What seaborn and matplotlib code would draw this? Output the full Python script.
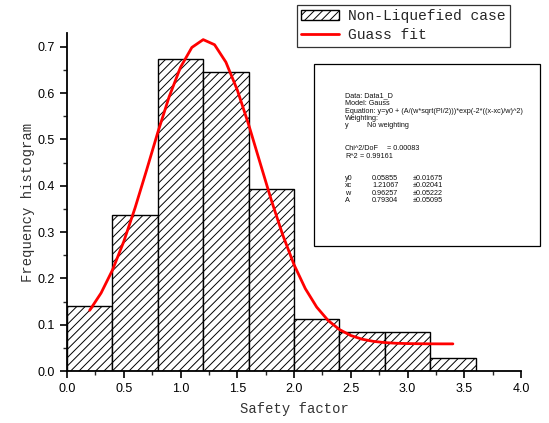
import numpy as np
import matplotlib
matplotlib.use("Agg")
import matplotlib.pyplot as plt
import seaborn as sns
from matplotlib.patches import Patch, Rectangle
from matplotlib.lines import Line2D
from matplotlib.ticker import MultipleLocator

# ---- data ----
bin_edges = [0.0, 0.4, 0.8, 1.2, 1.6, 2.0, 2.4, 2.8, 3.2, 3.6]
bin_centers = [0.2, 0.6, 1.0, 1.4, 1.8, 2.2, 2.6, 3.0, 3.4]
freq = [0.140, 0.337, 0.674, 0.646, 0.393, 0.112, 0.084, 0.084, 0.028]

fit_x = [0.2, 0.3, 0.4, 0.5, 0.6, 0.7, 0.8, 0.9, 1.0, 1.1, 1.2, 1.3, 1.4, 1.5,
         1.6, 1.7, 1.8, 1.9, 2.0, 2.1, 2.2, 2.3, 2.4, 2.5, 2.6, 2.7, 2.8, 2.9,
         3.0, 3.1, 3.2, 3.3, 3.4]
fit_y = [0.1311, 0.1683, 0.2177, 0.2795, 0.3525, 0.4329, 0.5153, 0.5923,
         0.6559, 0.6988, 0.7157, 0.7047, 0.6670, 0.6072, 0.5325, 0.4506,
         0.3692, 0.2943, 0.2298, 0.1778, 0.1380, 0.1093, 0.0896, 0.0767,
         0.0687, 0.0640, 0.0614, 0.0599, 0.0592, 0.0589, 0.0587, 0.0586,
         0.0586]

x_ticks = [0.0, 0.5, 1.0, 1.5, 2.0, 2.5, 3.0, 3.5, 4.0]
y_ticks = [0.0, 0.1, 0.2, 0.3, 0.4, 0.5, 0.6, 0.7]

legend_labels = ["Non-Liquefied case", "Guass fit"]
xlabel = "Safety factor"
ylabel = "Frequency histogram"

box_lines = [
    ("Data: Data1_D", None),
    ("Model: Gauss", None),
    ("Equation: y=y0 + (A/(w*sqrt(PI/2)))*exp(-2*((x-xc)/w)^2)", None),
    ("Weighting:", None),
    ("y", "No weighting"),
]
chi_line = ("Chi^2/DoF", "= 0.00083")
r2_line = ("R^2", "= 0.99161")
params = [("y0", "0.05855", "\u00b10.01675"),
          ("xc", "1.21067", "\u00b10.02041"),
          ("w", "0.96257", "\u00b10.05222"),
          ("A", "0.79304", "\u00b10.05095")]

# ---- plot ----
sns.set_style("white")
plt.rcParams["hatch.linewidth"] = 0.7
mono = ["Liberation Mono", "DejaVu Sans Mono"]
sans = ["Liberation Sans", "DejaVu Sans"]

fig = plt.figure(figsize=(5.49, 4.23), dpi=100)
ax = fig.add_axes([67/549, 52/423, (521-67)/549, (371-33)/423])

sns.histplot(x=bin_centers, weights=freq, bins=bin_edges, ax=ax,
             stat="count", color="white", alpha=1, edgecolor="black",
             linewidth=1.0, hatch="////", zorder=1)
sns.lineplot(x=fit_x, y=fit_y, ax=ax, color="red", linewidth=2.0, zorder=3)

ax.set_xlim(0, 4.0)
ax.set_ylim(0, 0.73)
ax.set_xticks(x_ticks)
ax.set_yticks(y_ticks)
ax.xaxis.set_minor_locator(MultipleLocator(0.25))
ax.yaxis.set_minor_locator(MultipleLocator(0.05))
ax.set_xticklabels([f"{v:.1f}" for v in x_ticks], fontfamily=sans, fontsize=9)
ax.set_yticklabels([f"{v:.1f}" for v in y_ticks], fontfamily=sans, fontsize=9)
ax.tick_params(which="major", direction="out", length=5, width=1.2,
               bottom=True, left=True, colors="black")
ax.tick_params(which="minor", direction="out", length=3, width=1.0,
               bottom=True, left=True)
for s in ["top", "right"]:
    ax.spines[s].set_visible(False)
for s in ["left", "bottom"]:
    ax.spines[s].set_linewidth(1.3)
    ax.spines[s].set_color("black")
ax.set_xlabel(xlabel, fontfamily=mono, fontsize=10, color="#333333", labelpad=5)
ax.set_ylabel(ylabel, fontfamily=mono, fontsize=10, color="#333333", labelpad=2)
ax.grid(False)

handles = [Patch(facecolor="white", edgecolor="black", hatch="////", linewidth=1.0),
           Line2D([0], [0], color="red", linewidth=2.0)]
leg = fig.legend(handles, legend_labels, loc="upper left",
                 bbox_to_anchor=(297/549, 1 - 5/423),
                 prop={"family": mono, "size": 10.5},
                 frameon=True, fancybox=False, borderpad=0.3,
                 handlelength=2.6, handletextpad=0.6, labelspacing=0.35,
                 borderaxespad=0)
leg.get_frame().set_edgecolor("black")
leg.get_frame().set_linewidth(0.9)

# fit-result box
bx0, by0, bx1, by1 = 314/549, 1 - 246/423, 540/549, 1 - 64/423
fig.patches.append(Rectangle((bx0, by0), bx1 - bx0, by1 - by0,
                             transform=fig.transFigure, facecolor="white",
                             edgecolor="black", linewidth=0.9, zorder=5))

def ft(xp, yp, s):
    fig.text(xp/549, 1 - yp/423, s, fontsize=5.2, fontfamily=sans,
             va="center", ha="left", zorder=6, color="#111111")

ys = [96, 103.5, 111, 118, 125.5]
for (a, b), yp in zip(box_lines, ys):
    ft(345, yp, a)
    if b:
        ft(367, yp, b)
ft(345, 149, chi_line[0]); ft(387, 149, chi_line[1])
ft(345, 157, r2_line[0]); ft(360, 157, r2_line[1])
for (a, b, c), yp in zip(params, [178, 185.5, 193, 200]):
    ft(345, yp, a); ft(372, yp, b); ft(413, yp, c)

fig.savefig("out.png", dpi=100)
